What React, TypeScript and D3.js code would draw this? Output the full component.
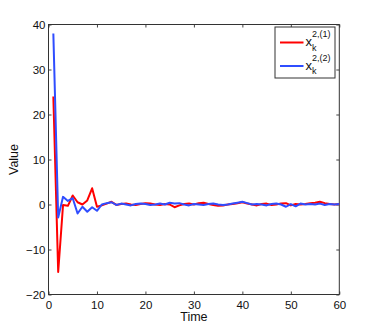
import React, { useRef, useEffect } from 'react'
import { select, scaleLinear, line, axisBottom, axisTop, axisLeft, axisRight } from 'd3'

const time = Array.from({ length: 60 }, (_, i) => i + 1)

const seriesOne = [24, -15, -0.1, -0.3, 2.0, 0.5, 0, 0.9, 3.6, -0.5, -0.2, 0.2, 0.6, -0.1, 0.1, 0.2, 0.0, -0.1, 0.1, 0.3,
  0.2, 0.0, -0.1, 0.1, 0.0, -0.6, -0.2, 0.1, 0.2, 0.0, 0.3, 0.4, 0.1, -0.1, -0.3, -0.2, 0.0, 0.1, 0.3, 0.5,
  0.2, 0.0, -0.2, 0.1, 0.2, -0.1, 0.0, 0.2, 0.3, -0.2, 0.1, 0.0, 0.1, 0.3, 0.4, 0.6, 0.3, 0.1, 0.0, 0.1]

const seriesTwo = [38, -2.9, 1.7, 0.8, 1.4, -2.0, -0.5, -1.6, -0.6, -1.4, 0.0, 0.3, 0.5, -0.1, 0.2, 0.0, -0.2, 0.1, 0.2, 0.1,
  -0.1, 0.0, 0.2, 0.0, 0.4, 0.2, 0.3, 0.0, -0.2, 0.1, 0.0, -0.1, 0.1, 0.2, 0.0, -0.1, 0.0, 0.2, 0.4, 0.6,
  0.3, 0.0, 0.1, 0.0, -0.2, 0.1, 0.2, 0.0, -0.5, 0.1, -0.4, 0.2, 0.0, 0.1, 0.0, 0.2, -0.1, 0.1, 0.0, 0.1]

const xTicks = [0, 10, 20, 30, 40, 50, 60]
const yTicks = [-20, -10, 0, 10, 20, 30, 40]
const legendLabels = ['2,(1)', '2,(2)']
const colors = ['#ff0000', '#2f4dff']

const W = 374, H = 331
const margin = { left: 48.5, right: 34.7, top: 24.5, bottom: 36.5 }
const font = 'Liberation Sans, Arial, sans-serif'

function App() {
  const svgRef = useRef<SVGSVGElement>(null)

  useEffect(() => {
    const svg = select(svgRef.current)
    svg.selectAll('*').remove()

    const x = scaleLinear().domain([0, 60]).range([margin.left, W - margin.right])
    const y = scaleLinear().domain([-20, 40]).range([H - margin.bottom, margin.top])

    const fmt = (d: any) => (d < 0 ? '\u2212' + Math.abs(d) : String(d))

    // frame ticks (inward, matlab style)
    const styleAxis = (g: any) => {
      g.select('.domain').remove()
      g.selectAll('.tick line').attr('stroke', '#444').attr('stroke-width', 1)
      g.selectAll('text').attr('font-family', font).attr('font-size', 11.5).attr('fill', '#111')
    }

    svg.append('g').attr('transform', `translate(0,${y(-20)})`)
      .call(axisBottom(x).tickValues(xTicks).tickSize(-3).tickPadding(6).tickFormat(fmt))
      .call(styleAxis)
    svg.append('g').attr('transform', `translate(0,${y(40)})`)
      .call(axisTop(x).tickValues(xTicks).tickSize(-3).tickFormat(() => ''))
      .call(styleAxis)
    svg.append('g').attr('transform', `translate(${x(0)},0)`)
      .call(axisLeft(y).tickValues(yTicks).tickSize(-3).tickPadding(3).tickFormat(fmt))
      .call(styleAxis)
    svg.append('g').attr('transform', `translate(${x(60)},0)`)
      .call(axisRight(y).tickValues(yTicks).tickSize(-3).tickFormat(() => ''))
      .call(styleAxis)

    svg.append('rect')
      .attr('x', x(0)).attr('y', y(40))
      .attr('width', x(60) - x(0)).attr('height', y(-20) - y(40))
      .attr('fill', 'none').attr('stroke', '#333').attr('stroke-width', 1)

    const path = line<number>()
      .x((d, i) => x(time[i]))
      .y(d => y(d))

    ;[seriesOne, seriesTwo].forEach((s, i) => {
      svg.append('path')
        .datum(s)
        .attr('d', path)
        .attr('fill', 'none')
        .attr('stroke', colors[i])
        .attr('stroke-width', 2)
        .attr('stroke-linejoin', 'round')
    })

    // axis labels
    svg.append('text')
      .attr('x', (x(0) + x(60)) / 2).attr('y', 321)
      .attr('text-anchor', 'middle')
      .attr('font-family', font).attr('font-size', 12.5).attr('fill', '#111')
      .text('Time')
    svg.append('text')
      .attr('transform', `translate(18,${(y(-20) + y(40)) / 2}) rotate(-90)`)
      .attr('text-anchor', 'middle')
      .attr('font-family', font).attr('font-size', 12.5).attr('fill', '#111')
      .text('Value')

    // legend
    const lg = svg.append('g')
    lg.append('rect')
      .attr('x', 275).attr('y', 27).attr('width', 60).attr('height', 51)
      .attr('fill', 'white').attr('stroke', '#333').attr('stroke-width', 1)
    legendLabels.forEach((lab, i) => {
      const ly = 42.5 + i * 23.5
      lg.append('line')
        .attr('x1', 280).attr('x2', 303.5).attr('y1', ly).attr('y2', ly)
        .attr('stroke', colors[i]).attr('stroke-width', 2)
      lg.append('text')
        .attr('x', 305.5).attr('y', ly + 3.5)
        .attr('font-family', font).attr('font-size', 13).attr('fill', '#111')
        .text('x')
      lg.append('text')
        .attr('x', 312).attr('y', ly - 5.5)
        .attr('font-family', font).attr('font-size', 9).attr('fill', '#111')
        .text(lab)
      lg.append('text')
        .attr('x', 312).attr('y', ly + 8)
        .attr('font-family', font).attr('font-size', 9).attr('fill', '#111')
        .text('k')
    })
  }, [])

  return (
    <div style={{ position: 'absolute', left: 0, top: 0 }}>
      <svg ref={svgRef} width={W} height={H} style={{ display: 'block', background: 'white' }} />
    </div>
  )
}

export default App
